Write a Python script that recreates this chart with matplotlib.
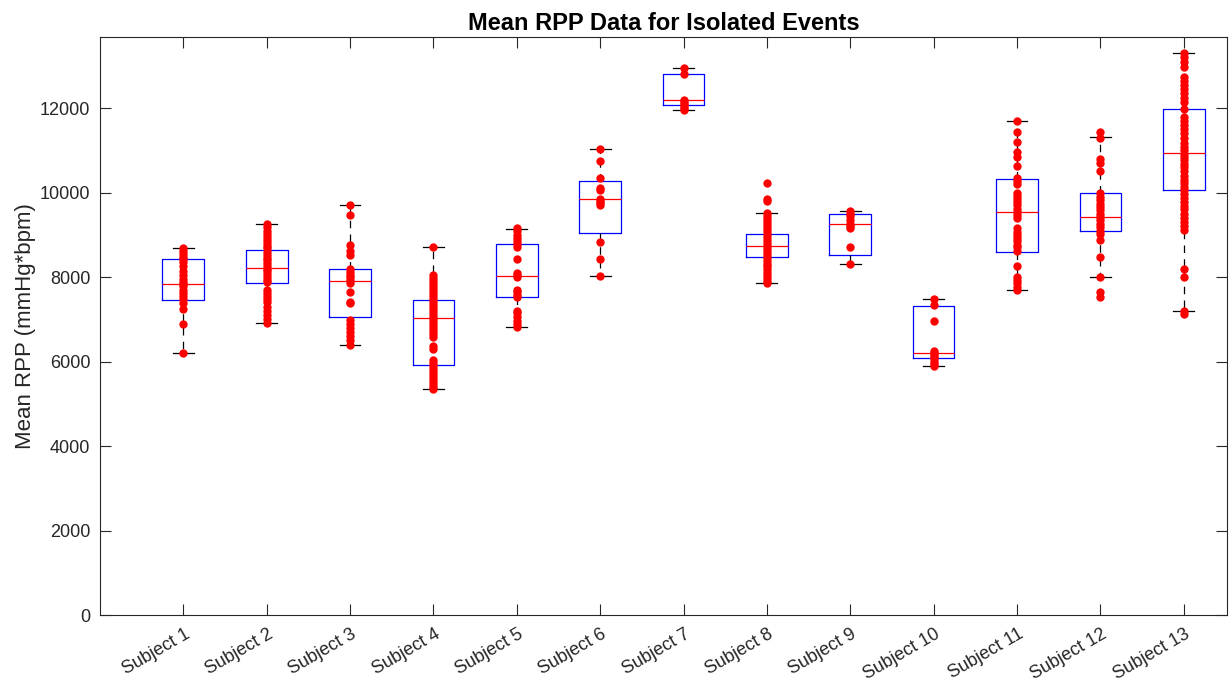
import matplotlib
matplotlib.use("Agg")
from matplotlib import pyplot as plt
from matplotlib import transforms

plt.rcParams['font.family'] = ['Liberation Sans', 'DejaVu Sans']

subjects = ['Subject %d' % i for i in range(1, 14)]

# box statistics
whis_lo = [6200, 6905, 6390, 5342, 6825, 8024, 11945, 7858, 8316, 5901, 7693, 8008, 7196]
q1 = [7456, 7851, 7061, 5910, 7535, 9049, 12072, 8466, 8514, 6083, 8585, 9097, 10060]
median = [7834, 8206, 7906, 7023, 8024, 9839, 12182, 8726, 9248, 6194, 9531, 9429, 10928]
q3 = [8426, 8640, 8183, 7456, 8774, 10280, 12798, 9010, 9484, 7321, 10313, 9981, 11985]
whis_hi = [8686, 9250, 9700, 8700, 9140, 11023, 12940, 9523, 9555, 7480, 11700, 11306, 13310]

# individual event values
s1 = [8686, 8620, 8550, 8480, 8420, 8350, 8250, 8150, 8050, 7950, 7880, 7830, 7780,
      7700, 7620, 7550, 7480, 7380, 7250, 6890, 6200]
s2 = [9250, 9180, 9100, 9020, 8950, 8880, 8800, 8740, 8680, 8600, 8530, 8460, 8400,
      8330, 8260, 8200, 8140, 8080, 8000, 7940, 7880, 7700, 7620, 7560, 7480, 7400,
      7300, 7200, 7100, 7000, 6905]
s3 = [9700, 9480, 8760, 8620, 8520, 8200, 8130, 8060, 7990, 7920, 7860, 7650, 7400,
      7380, 6980, 6900, 6800, 6700, 6600, 6500, 6390]
s4 = [8700, 8050, 7980, 7900, 7830, 7760, 7690, 7620, 7550, 7480, 7410, 7340, 7270,
      7200, 7130, 7060, 7000, 6930, 6860, 6790, 6720, 6650, 6580, 6360, 6290, 6030,
      5960, 5890, 5820, 5750, 5680, 5610, 5540, 5470, 5400, 5342]
s5 = [9150, 9080, 9000, 8930, 8850, 8780, 8700, 8430, 8100, 8050, 8000, 7700, 7650,
      7580, 7520, 7200, 7150, 7050, 6950, 6880, 6825]
s6 = [11030, 10750, 10350, 10100, 10050, 9850, 9800, 9750, 9700, 8830, 8430, 8030]
s7 = [12950, 12800, 12200, 12150, 12100, 12050, 12000, 11950]
s8 = [10225, 9850, 9800, 9520, 9450, 9380, 9300, 9230, 9160, 9090, 9020, 8950, 8880,
      8810, 8740, 8670, 8600, 8530, 8460, 8390, 8320, 8250, 8180, 8110, 8040, 7970,
      7900, 7858]
s9 = [9560, 9500, 9450, 9350, 9250, 9200, 9150, 8700, 8320]
s10 = [7480, 7350, 6970, 6250, 6200, 6150, 6100, 6050, 6000, 5950, 5900]
s11 = [11700, 11440, 11200, 10950, 10850, 10630, 10350, 10280, 10200, 10000, 9930,
       9850, 9780, 9700, 9620, 9550, 9480, 9400, 9150, 9070, 9000, 8920, 8850, 8770,
       8700, 8620, 8270, 8000, 7920, 7850, 7770, 7693]
s12 = [11430, 11300, 10800, 10700, 10500, 9980, 9900, 9820, 9740, 9660, 9580, 9500,
       9420, 9340, 9260, 9180, 9100, 9020, 8880, 8480, 8010, 7650, 7530]
s13 = [13310, 13200, 13100, 12980, 12740, 12650, 12550, 12450, 12350, 12250, 12150,
       11985, 11800, 11700, 11600, 11500, 11400, 11300, 11170, 11080, 11000, 10920,
       10840, 10760, 10680, 10600, 10500, 10400, 10300, 10230, 10140, 10050, 9960,
       9870, 9780, 9690, 9600, 9500, 9400, 9300, 9200, 9110, 8180, 8010, 7196, 7120]
events = [s1, s2, s3, s4, s5, s6, s7, s8, s9, s10, s11, s12, s13]

stats = []
for i in range(len(subjects)):
    stats.append({'whislo': whis_lo[i], 'q1': q1[i], 'med': median[i],
                  'q3': q3[i], 'whishi': whis_hi[i], 'fliers': []})

fig = plt.figure(figsize=(12.31, 6.87), dpi=100)
ax = fig.add_axes([0.0812, 0.1048, 0.9156, 0.8412])

pos = list(range(1, len(subjects) + 1))
ax.bxp(stats, positions=pos, widths=0.5, showfliers=False,
       boxprops=dict(color='blue', linewidth=0.9),
       medianprops=dict(color='red', linewidth=0.9),
       whiskerprops=dict(color='black', linewidth=0.9, linestyle=(0, (6, 5))),
       capprops=dict(color='black', linewidth=0.9),
       capwidths=0.25)

for p, vals in zip(pos, events):
    ax.plot([p] * len(vals), vals, 'o', color='red', markersize=6,
            markeredgewidth=0, zorder=5)

ax.set_xlim(0, 13.52)
ax.set_ylim(0, 13680)
ax.set_yticks(range(0, 13000, 2000))
ax.set_xticks(pos)
ax.set_xticklabels(subjects, rotation=30, ha='right', va='center',
                   rotation_mode='anchor')
ax.tick_params(direction='in', top=True, right=True, labelsize=13,
               colors='#262626', length=8, width=0.8)
ax.tick_params(axis='y', pad=7)
ax.tick_params(axis='x', pad=13)
shift = transforms.ScaledTranslation(5 / 100, 0, fig.dpi_scale_trans)
for lab in ax.get_xticklabels():
    lab.set_transform(lab.get_transform() + shift)
for s in ax.spines.values():
    s.set_color('#262626')
    s.set_linewidth(0.8)

ax.set_ylabel('Mean RPP (mmHg*bpm)', fontsize=16, color='#262626', labelpad=3)
ax.set_title('Mean RPP Data for Isolated Events', fontsize=17, fontweight='bold', pad=5)

fig.savefig('out.png', dpi=100)
